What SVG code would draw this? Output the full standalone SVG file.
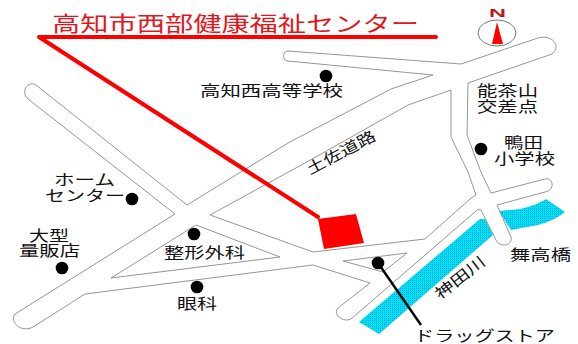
<svg xmlns="http://www.w3.org/2000/svg" width="578" height="344" viewBox="0 0 578 344">
<style>
.t{font-family:"Noto Sans CJK JP","Noto Sans CJK SC",sans-serif;font-size:15px;fill:#111}
.r{fill:none;stroke:#8a8a8a;stroke-width:.9;stroke-linejoin:round}
.d{fill:#000}
.c{fill:none;stroke:#f00;stroke-width:4;stroke-linecap:round;stroke-linejoin:round}
.w{fill:url(#dots)}
</style>
<defs><pattern id="dots" width="2" height="2" patternUnits="userSpaceOnUse"><rect width="2" height="2" fill="#00e0f4"/><rect width="1" height="1" fill="#10a8d4"/></pattern></defs>
<rect width="578" height="344" fill="#fff"/>
<g id="river"><path class="w" d="M359 322L480 219H485L493 235L379 334Z"/><path class="w" d="M499 211L521 209C532 206 540 203 546 199L565 212C556 219 548 222 538 225L511 230Z"/><text class="t" transform="translate(440 300) rotate(-38)" textLength="59" lengthAdjust="spacingAndGlyphs">神田川</text></g>
<g id="connectors">
<path class="r" d="M36 85L187 205L288 143L391 89L433 75L288 61C282 61 282 51 288 51L461 64L538 38C552 34 562 46 552 54L468 83L467 135L481 172L491 193L545 179C553 177 556 190 545 192L497 205L511 237C513 246 500 248 496 240L481 210C478 209 477 210 476 211L351 319C343 323 332 314 338 308L370 283L313 265L85 294L33 327C22 333 9 323 15 314L175 214L28 99C20 92 28 80 36 85Z"/>
<path class="r" d="M210 215L305 163L408 105L451 90V137L468 172L476 195L470 199L425 239L313 252Z"/>
<path class="r" d="M196 225L280 257L111 278Z"/>
<path class="r" d="M343 261L407 253L383 272Z"/>
<path d="M378 263L421 325" fill="none" stroke="#000" stroke-width="2.4"/>
</g>
<g id="title"><text x="52" y="31" font-family="'Noto Sans CJK JP',sans-serif" font-size="21" fill="#e0181e" textLength="367" lengthAdjust="spacingAndGlyphs">高知市西部健康福祉センター</text></g>
<g id="leader"><path class="c" d="M436 37H39L318 217"/></g>
<g id="site"><path d="M318 219L356 214L364 243L324 249Z" fill="#f00"/></g>
<g id="north"><ellipse cx="497" cy="33" rx="19" ry="13" fill="#fff" stroke="#777"/><path d="M497 22L492 44H503Z" fill="#f00"/><text x="489" y="17" font-family="'Liberation Sans',sans-serif" font-weight="700" font-size="11" fill="#c0101c" textLength="17" lengthAdjust="spacingAndGlyphs">N</text></g>
<g id="n1"><circle class="d" cx="326" cy="76" r="6.3"/><text class="t" x="200" y="95.5" textLength="143" lengthAdjust="spacingAndGlyphs">高知西高等学校</text></g>
<g id="n2"><text class="t" x="477" y="95.5" textLength="61" lengthAdjust="spacingAndGlyphs">能茶山</text><text class="t" x="477" y="111.5" textLength="61" lengthAdjust="spacingAndGlyphs">交差点</text></g>
<g id="n3"><circle class="d" cx="481" cy="149" r="6.3"/><text class="t" x="504" y="147.5" textLength="39" lengthAdjust="spacingAndGlyphs">鴨田</text><text class="t" x="494" y="163.5" textLength="61" lengthAdjust="spacingAndGlyphs">小学校</text></g>
<g id="n4"><text class="t" transform="translate(310 175) rotate(-28)" textLength="76" lengthAdjust="spacingAndGlyphs">土佐道路</text></g>
<g id="n5"><circle class="d" cx="132" cy="199" r="6.3"/><text class="t" x="54" y="184.5" textLength="61" lengthAdjust="spacingAndGlyphs">ホーム</text><text class="t" x="45" y="200.5" textLength="80" lengthAdjust="spacingAndGlyphs">センター</text></g>
<g id="n6"><circle class="d" cx="62" cy="268" r="6.3"/><text class="t" x="29" y="240.5" textLength="40" lengthAdjust="spacingAndGlyphs">大型</text><text class="t" x="19" y="255.5" textLength="61" lengthAdjust="spacingAndGlyphs">量販店</text></g>
<g id="n7"><circle class="d" cx="194" cy="234" r="6.3"/><text class="t" x="164" y="258" textLength="81" lengthAdjust="spacingAndGlyphs">整形外科</text></g>
<g id="n8"><circle class="d" cx="197" cy="287" r="6.3"/><text class="t" x="177" y="308.5" textLength="40" lengthAdjust="spacingAndGlyphs">眼科</text></g>
<g id="n9"><circle class="d" cx="378" cy="263" r="6.3"/><text class="t" x="414" y="340.5" textLength="141" lengthAdjust="spacingAndGlyphs">ドラッグストア</text></g>
<g id="n10"><text class="t" x="510" y="260" textLength="61" lengthAdjust="spacingAndGlyphs">舞高橋</text></g>
</svg>
